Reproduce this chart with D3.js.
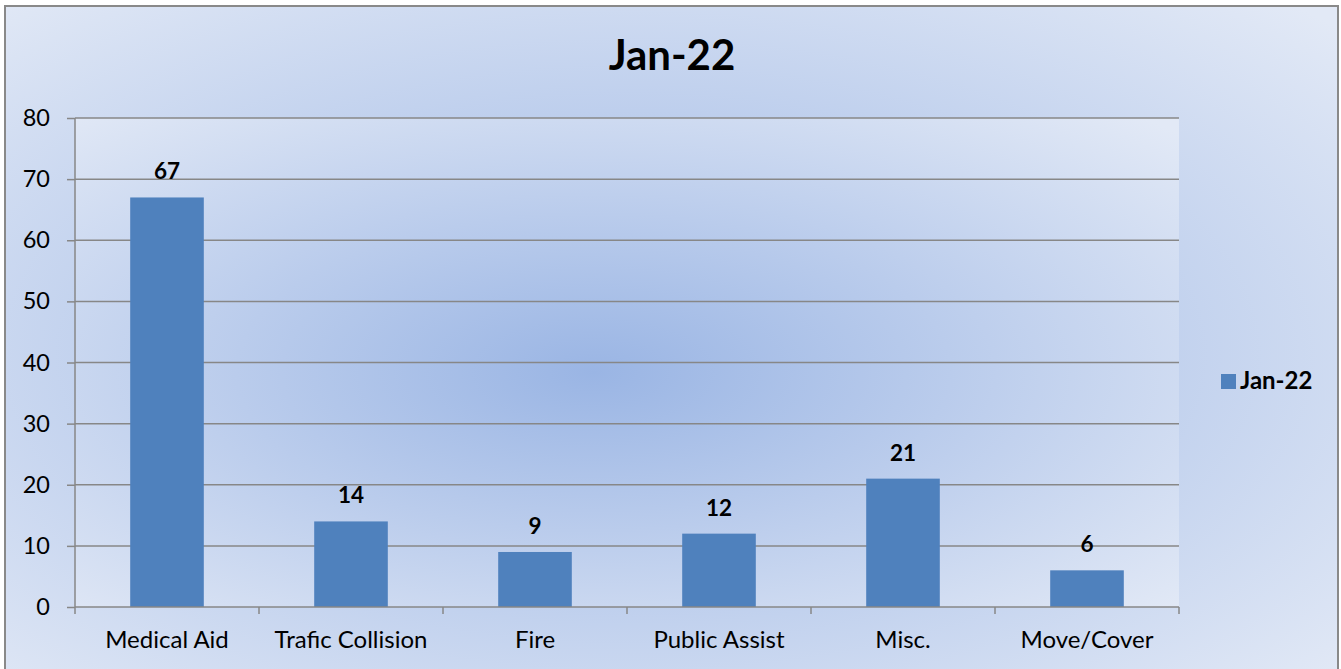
<!DOCTYPE html>
<html><head><meta charset="utf-8">
<script src="https://cdn.jsdelivr.net/npm/d3@7"></script>
<style>html,body{margin:0;padding:0;background:#fff;overflow:hidden}svg{display:block}text{font-family:Lato,"Open Sans",sans-serif}</style>
</head><body>
<svg id="c" width="1341" height="669"></svg>
<script>
const categories = ["Medical Aid","Trafic Collision","Fire","Public Assist","Misc.","Move/Cover"];
const values = [67,14,9,12,21,6];
const seriesName = "Jan-22";
const yTicks = [0,10,20,30,40,50,60,70,80];
const title = "Jan-22";

const W=1341,H=669;
const svg=d3.select("#c");
const defs=svg.append("defs");
function rg(id){
  const g=defs.append("radialGradient").attr("id",id).attr("cx","0.47").attr("cy","0.52").attr("r","0.72");
  g.append("stop").attr("offset","0").attr("stop-color","#9ab5e4");
  g.append("stop").attr("offset","0.45").attr("stop-color","#baccec");
  g.append("stop").attr("offset","1").attr("stop-color","#e2e9f6");
}
rg("bg");rg("pg");

svg.append("rect").attr("x",5).attr("y",6).attr("width",1333).attr("height",670)
  .attr("fill","url(#bg)").attr("stroke","#898989").attr("stroke-width",2);

const m={l:75,r:1179,t:118,b:607};
const x=d3.scaleBand().domain(categories).range([m.l,m.r]).paddingInner(0.6).paddingOuter(0.3);
const y=d3.scaleLinear().domain([0,80]).range([m.b,m.t]);

svg.append("rect").attr("x",m.l).attr("y",m.t).attr("width",m.r-m.l).attr("height",m.b-m.t)
  .attr("fill","url(#pg)");

// gridlines
svg.append("g").selectAll("line").data(yTicks.filter(d=>d>0)).join("line")
  .attr("x1",m.l).attr("x2",m.r).attr("y1",d=>y(d)).attr("y2",d=>y(d))
  .attr("stroke","#878787").attr("stroke-width",1.5);

// bars
svg.append("g").selectAll("rect").data(values).join("rect")
  .attr("x",(d,i)=>x(categories[i])).attr("width",x.bandwidth())
  .attr("y",d=>y(d)).attr("height",d=>y(0)-y(d)).attr("fill","#4f81bd");

// data labels
svg.append("g").selectAll("text").data(values).join("text")
  .attr("x",(d,i)=>x(categories[i])+x.bandwidth()/2).attr("y",d=>y(d)-18)
  .attr("text-anchor","middle").attr("font-weight","bold").attr("font-size",22.5).attr("fill","#000").text(d=>d);

// y axis
const ya=svg.append("g").attr("transform",`translate(${m.l},0)`)
  .call(d3.axisLeft(y).tickValues(yTicks).tickSize(8).tickPadding(17));
ya.select(".domain").attr("stroke","#878787").attr("stroke-width",1.5).attr("d",`M0,${m.t}V${m.b}`);
ya.selectAll(".tick line").attr("stroke","#878787").attr("stroke-width",1.5);
ya.selectAll(".tick text").attr("font-size",23.5).attr("fill","#000").attr("font-family","Lato");

// x axis
const xa=svg.append("g").attr("transform",`translate(0,${m.b})`);
xa.append("line").attr("x1",m.l).attr("x2",m.r).attr("y1",0).attr("y2",0).attr("stroke","#878787").attr("stroke-width",1.5);
const bounds=d3.range(categories.length+1).map(i=>m.l+i*(m.r-m.l)/categories.length);
xa.selectAll("line.t").data(bounds).join("line").attr("class","t")
  .attr("x1",d=>d).attr("x2",d=>d).attr("y1",0).attr("y2",7).attr("stroke","#878787").attr("stroke-width",1.5);
xa.selectAll("text").data(categories).join("text")
  .attr("x",d=>x(d)+x.bandwidth()/2).attr("y",41).attr("text-anchor","middle")
  .attr("font-size",24).attr("fill","#000").text(d=>d);

// title
svg.append("text").attr("x",672).attr("y",70).attr("text-anchor","middle")
  .attr("font-weight","bold").attr("font-size",42).attr("fill","#000").text(title);

// legend
svg.append("rect").attr("x",1221).attr("y",374).attr("width",15).attr("height",15).attr("fill","#4f81bd");
svg.append("text").attr("x",1240).attr("y",389).attr("font-weight","bold").attr("font-size",24).attr("fill","#000").text(seriesName);
</script>
</body></html>
